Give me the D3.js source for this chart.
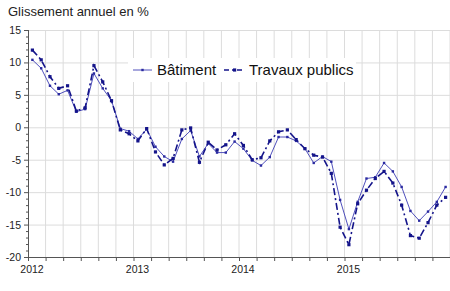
<!DOCTYPE html>
<html>
<head>
<meta charset="utf-8">
<script src="https://cdn.jsdelivr.net/npm/d3@7"></script>
<style>
  body { margin: 0; background: #fff; }
  svg { display: block; font-family: "Liberation Sans", Arial, sans-serif; }
</style>
</head>
<body>
<svg id="chart" width="450" height="291"></svg>
<script>
// --- DATA (monthly, Jan 2012 -> Dec 2015) ---
var years = [2012, 2013, 2014, 2015];
var yTicks = [15, 10, 5, 0, -5, -10, -15, -20];

var batiment = [
    10.4, 9.1, 6.4, 5.1, 5.7, 2.4, 2.8, 8.3, 6.0, 4.1, -0.2, -0.6,
    -1.8, -0.3, -3.0, -4.5, -5.3, -1.8, -0.5, -4.5, -2.5, -3.9, -3.9, -2.2,
    -3.3, -5.1, -5.9, -4.6, -1.5, -1.5, -2.1, -3.3, -5.5, -4.5, -5.3, -11.2,
    -15.7, -11.5, -7.9, -7.7, -5.5, -6.8, -9.2, -12.9, -14.4, -13.0, -11.5, -9.2
];
var travauxPublics = [
    11.9, 10.4, 7.8, 6.0, 6.4, 2.5, 3.0, 9.5, 7.0, 4.1, -0.4, -1.0,
    -2.1, -0.2, -3.8, -5.8, -4.8, -0.4, -0.1, -5.4, -2.3, -3.5, -2.7, -1.0,
    -2.8, -5.0, -4.7, -2.1, -0.7, -0.4, -1.9, -3.3, -4.3, -4.6, -7.1, -15.4,
    -18.1, -11.8, -9.7, -7.9, -6.8, -8.6, -12.0, -16.7, -17.1, -14.7, -12.0, -10.8
];

// --- SETUP ---
var svg = d3.select("#chart");
var plotLeft = 28, plotRight = 450, plotTop = 30, plotBottom = 257;
var nMonths = batiment.length;

var x = d3.scaleLinear().domain([0, nMonths]).range([plotLeft, plotRight]);
var y = d3.scaleLinear().domain([-20, 15]).range([plotBottom, plotTop]);

var gridColor = "#dcdcdc";
var axisColor = "#555";

// title
svg.append("text")
    .attr("x", 8).attr("y", 16)
    .attr("font-size", 13).attr("fill", "#222")
    .text("Glissement annuel en %");

// gridlines (vertical every 2 months, horizontal every 5)
svg.append("g").selectAll("line")
    .data(d3.range(2, nMonths + 1, 2))
    .enter().append("line")
    .attr("x1", d => x(d)).attr("x2", d => x(d))
    .attr("y1", plotTop).attr("y2", plotBottom)
    .attr("stroke", gridColor).attr("stroke-width", 1);

svg.append("g").selectAll("line")
    .data(yTicks.filter(d => d > -20))
    .enter().append("line")
    .attr("x1", plotLeft).attr("x2", plotRight)
    .attr("y1", d => y(d) + 0.5).attr("y2", d => y(d) + 0.5)
    .attr("stroke", gridColor).attr("stroke-width", 1);

// y axis with minor ticks every 1
svg.append("line")
    .attr("x1", plotLeft + 0.5).attr("x2", plotLeft + 0.5)
    .attr("y1", plotTop).attr("y2", plotBottom)
    .attr("stroke", axisColor);
svg.append("g").selectAll("line")
    .data(d3.range(-20, 16))
    .enter().append("line")
    .attr("x1", d => d % 5 === 0 ? plotLeft - 4 : plotLeft - 2).attr("x2", plotLeft)
    .attr("y1", d => y(d) + 0.5).attr("y2", d => y(d) + 0.5)
    .attr("stroke", axisColor);
svg.append("g").selectAll("text")
    .data(yTicks)
    .enter().append("text")
    .attr("x", 21).attr("y", d => y(d) + 4)
    .attr("text-anchor", "end")
    .attr("font-size", 10.5).attr("fill", "#222")
    .text(d => d);

// x axis
svg.append("line")
    .attr("x1", plotLeft).attr("x2", plotRight)
    .attr("y1", plotBottom + 0.5).attr("y2", plotBottom + 0.5)
    .attr("stroke", axisColor);
svg.append("g").selectAll("line")
    .data(d3.range(0, nMonths + 1, 2))
    .enter().append("line")
    .attr("x1", d => x(d) + 0.5).attr("x2", d => x(d) + 0.5)
    .attr("y1", plotBottom).attr("y2", plotBottom + 4)
    .attr("stroke", axisColor);
svg.append("g").selectAll("text")
    .data(years)
    .enter().append("text")
    .attr("x", (d, i) => x(i * 12) + 4).attr("y", 273)
    .attr("text-anchor", "middle")
    .attr("font-size", 10.5).attr("fill", "#222")
    .text(d => d);

// --- SERIES ---
var line = d3.line()
    .x((d, i) => x(i + 0.5))
    .y(d => y(d));

svg.append("path")
    .datum(batiment)
    .attr("d", line)
    .attr("fill", "none")
    .attr("stroke", "#3c3cb4")
    .attr("stroke-width", 0.9);
svg.append("g").selectAll("rect")
    .data(batiment)
    .enter().append("rect")
    .attr("x", (d, i) => x(i + 0.5) - 1.2).attr("y", d => y(d) - 1.2)
    .attr("width", 2.4).attr("height", 2.4)
    .attr("fill", "#2a2aa0");

svg.append("path")
    .datum(travauxPublics)
    .attr("d", line)
    .attr("fill", "none")
    .attr("stroke", "#14148a")
    .attr("stroke-width", 1.6)
    .attr("stroke-dasharray", "7,3,2,3");
svg.append("g").selectAll("rect")
    .data(travauxPublics)
    .enter().append("rect")
    .attr("x", (d, i) => x(i + 0.5) - 1.6).attr("y", d => y(d) - 1.6)
    .attr("width", 3.2).attr("height", 3.2)
    .attr("fill", "#14148a");

// --- LEGEND ---
var legend = svg.append("g");
legend.append("rect")
    .attr("x", 128).attr("y", 58)
    .attr("width", 228).attr("height", 24)
    .attr("fill", "#fff");

legend.append("line")
    .attr("x1", 133).attr("x2", 152).attr("y1", 70).attr("y2", 70)
    .attr("stroke", "#3c3cb4").attr("stroke-width", 0.9);
legend.append("rect")
    .attr("x", 141.3).attr("y", 68.8).attr("width", 2.4).attr("height", 2.4)
    .attr("fill", "#2a2aa0");
legend.append("text")
    .attr("x", 157).attr("y", 75)
    .attr("font-size", 15).attr("fill", "#111")
    .text("Bâtiment");

legend.append("line")
    .attr("x1", 224).attr("x2", 245).attr("y1", 70).attr("y2", 70)
    .attr("stroke", "#14148a").attr("stroke-width", 1.6)
    .attr("stroke-dasharray", "5,3,2,3");
legend.append("rect")
    .attr("x", 233).attr("y", 68.4).attr("width", 3.2).attr("height", 3.2)
    .attr("fill", "#14148a");
legend.append("text")
    .attr("x", 249).attr("y", 75)
    .attr("font-size", 15).attr("fill", "#111")
    .text("Travaux publics");
</script>
</body>
</html>
